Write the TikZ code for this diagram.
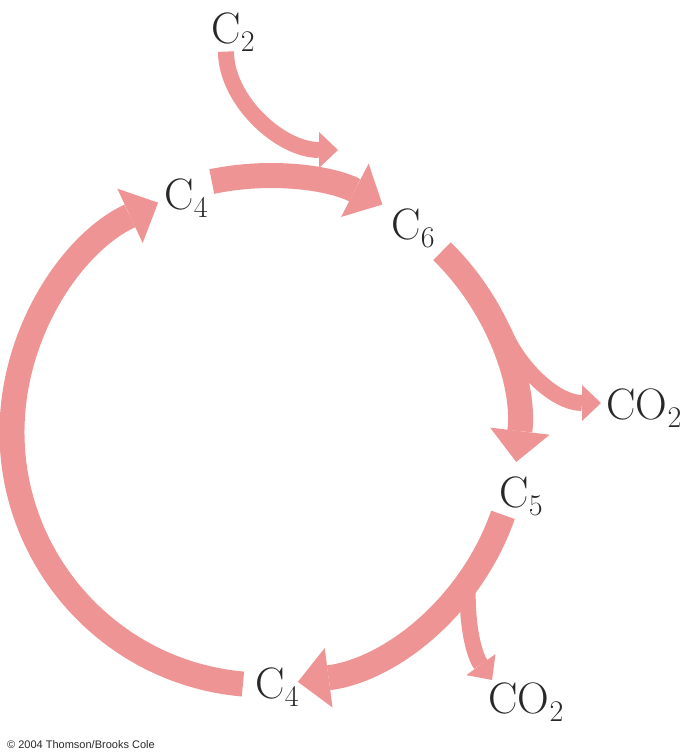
\documentclass[tikz,border=0pt]{standalone}
\usepackage{fontspec}
\usepackage{xcolor}
\usepackage{tikz}
\usetikzlibrary{arrows.meta}
\usetikzlibrary{calc}
\newfontfamily\creditfont{Liberation Sans}
\definecolor{cyclepink}{RGB}{238,148,148}
\definecolor{ink}{RGB}{40,40,40}
\newcommand{\lowsub}[1]{\raisebox{-8pt}{\fontsize{30}{30}\selectfont #1}}

\begin{document}
\begin{tikzpicture}[x=1pt,y=1pt,
	ring/.style={line width=25pt,cyclepink,-{Triangle[width=60pt,length=31pt,line width=0pt]}},
	branch/.style={line width=16pt,cyclepink,-{Triangle[width=36pt,length=19pt,line width=0pt]}},
	carbon/.style={inner sep=0pt,text=ink,font=\fontsize{44}{50}\selectfont}]
	  	\useasboundingbox (0,0) rectangle (686,755);
	  	\coordinate (O) at (265,323);
	  	\node[carbon] (C2) at (233,723) {C\lowsub{2}};
	  	\node[carbon] (C4 top) at (186,557) {C\lowsub{4}};
	  	\node[carbon] (C6) at (413,527) {C\lowsub{6}};
	  	\node[carbon] (C5) at (521,259) {C\lowsub{5}};
	  	\node[carbon] (CO2 right) at (644,347) {CO\lowsub{2}};
	  	\node[carbon] (C4 bottom) at (277,68) {C\lowsub{4}};
	  	\node[carbon] (CO2 bottom) at (526,53) {CO\lowsub{2}};
	  	\coordinate (left start) at ($(O)+(265:253)$);
	  	\coordinate (top start) at ($(O)+(102:256)$);
	  	\coordinate (right start) at ($(O)+(45.6:253)$);
	  	\coordinate (low start) at ($(O)+(-19.2:252)$);
	  	\draw[ring] (left start) arc[start angle=265,end angle=115,radius=253];
	  	\draw[ring] (top start) arc[start angle=102,end angle=62.7,radius=256];
	  	\draw[ring] (right start) arc[start angle=45.6,end angle=-6.8,radius=253];
	  	\draw[ring] (low start) arc[start angle=-19.2,end angle=-82.5,radius=252];
	  	\coordinate (C2 tip) at (338,605);
	  	\coordinate (CO2 right tip) at (601,352);
	  	\coordinate (CO2 bottom tip) at (492,75);
	  	\draw[branch] ([xshift=-7pt]C2.south) .. controls (226,655) and (280,605) .. (C2 tip);
	  	\draw[branch] (503,425) .. controls (518,388) and (555,352) .. (CO2 right tip);
	  	\draw[branch] (468,175) .. controls (466,130) and (474,100) .. (CO2 bottom tip);
	  	\node[anchor=west,inner sep=0pt,text=ink] (credit) at (7,10) {\creditfont\fontsize{11}{13}\selectfont \textcopyright{} 2004 Thomson/Brooks Cole};
	  \end{tikzpicture}
\end{document}
